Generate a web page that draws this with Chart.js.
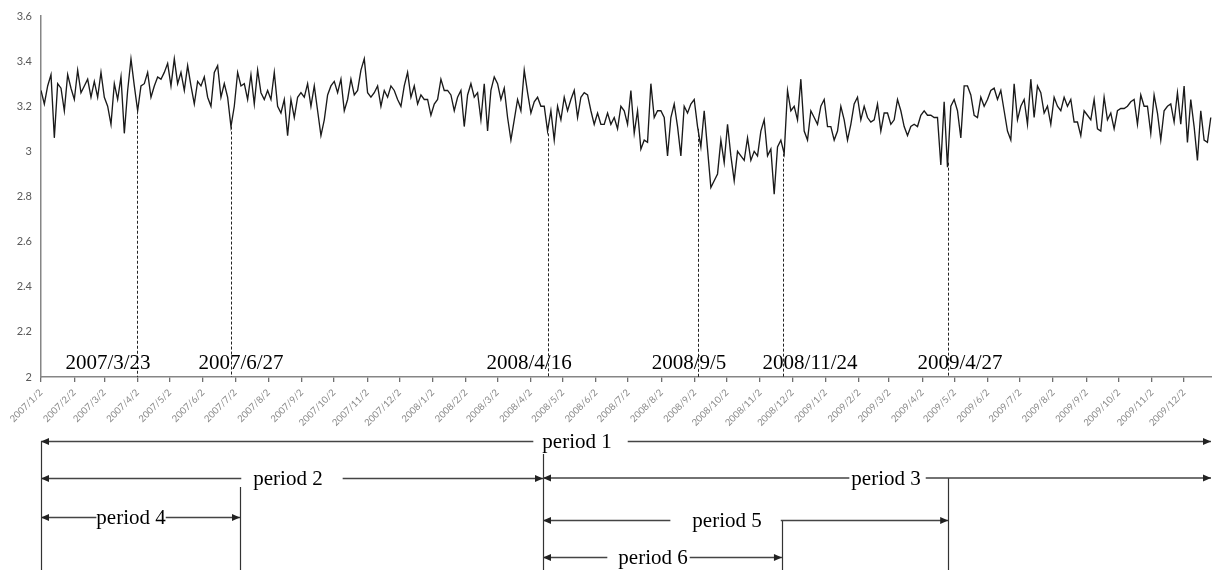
<!DOCTYPE html>
<html><head><meta charset="utf-8">
<script src="https://cdn.jsdelivr.net/npm/chart.js@4.4.0/dist/chart.umd.min.js"></script>
<style>html,body{margin:0;padding:0;background:#fff}#wrap{position:relative;width:1212px;height:570px}</style>
</head><body><div id="wrap"><canvas id="c"></canvas></div>
<script>
// ---- data ----
const monthTicks = [
 '2007/1/2','2007/2/2','2007/3/2','2007/4/2','2007/5/2','2007/6/2','2007/7/2','2007/8/2','2007/9/2','2007/10/2','2007/11/2','2007/12/2',
 '2008/1/2','2008/2/2','2008/3/2','2008/4/2','2008/5/2','2008/6/2','2008/7/2','2008/8/2','2008/9/2','2008/10/2','2008/11/2','2008/12/2',
 '2009/1/2','2009/2/2','2009/3/2','2009/4/2','2009/5/2','2009/6/2','2009/7/2','2009/8/2','2009/9/2','2009/10/2','2009/11/2','2009/12/2'];
const yTicks = [2, 2.2, 2.4, 2.6, 2.8, 3, 3.2, 3.4, 3.6];
const axisEndDay = 1091;        // last day on the axis (days after 2007/1/2)
const sampleStepDays = 3.105;   // spacing of the samples
const values = [
 3.27,3.21,3.29,3.34,3.06,3.30,3.28,3.18,3.34,3.28,
 3.23,3.36,3.26,3.29,3.32,3.24,3.31,3.24,3.35,3.24,
 3.20,3.12,3.30,3.23,3.33,3.08,3.27,3.41,3.29,3.18,
 3.29,3.30,3.35,3.24,3.29,3.33,3.32,3.35,3.39,3.29,
 3.41,3.30,3.35,3.27,3.38,3.29,3.21,3.31,3.29,3.33,
 3.24,3.20,3.35,3.38,3.24,3.30,3.24,3.11,3.20,3.35,
 3.29,3.30,3.23,3.34,3.21,3.36,3.26,3.23,3.27,3.23,
 3.35,3.20,3.17,3.23,3.07,3.23,3.15,3.24,3.26,3.24,
 3.30,
 3.20,3.29,3.18,3.07,3.14,3.25,3.29,3.31,3.26,3.32,
 3.18,3.23,3.32,3.25,3.27,3.36,3.41,3.26,3.24,3.26,
 3.29,3.20,3.27,3.24,3.29,3.27,3.23,3.20,3.29,3.35,
 3.24,3.29,3.21,3.25,3.23,3.23,3.16,3.21,3.23,3.32,
 3.27,3.27,3.25,3.18,3.24,3.27,3.11,3.25,3.30,3.24,
 3.26,3.14,3.30,3.09,3.27,3.33,3.30,3.23,3.28,3.15,
 3.05,3.14,3.23,3.18,3.36,3.26,3.17,3.22,3.24,3.20,
 3.20,3.09,3.18,3.05,3.20,3.14,3.24,3.18,3.23,3.27,
 3.15,3.24,3.26,3.25,3.18,3.12,3.17,3.12,3.12,3.17,
 3.12,3.15,3.10,3.20,3.18,3.12,3.27,3.08,3.18,3.01,
 3.05,3.04,3.30,3.15,3.18,3.18,3.15,2.98,3.15,3.21,
 3.11,2.98,3.20,3.17,3.21,3.23,3.11,3.02,3.18,3.01,
 2.84,2.87,2.90,3.05,2.95,3.12,2.98,2.87,3.00,2.98,
 2.96,3.06,2.96,3.00,2.98,3.09,3.14,2.98,3.01,2.81,
 3.02,3.05,2.99,3.27,3.18,3.20,3.14,3.32,3.09,3.05,
 3.18,3.15,3.12,3.20,3.23,3.11,3.11,3.05,3.09,3.20,
 3.14,3.05,3.12,3.21,3.24,3.14,3.20,3.15,3.13,3.14,
 3.21,3.09,3.17,3.17,3.12,3.14,3.23,3.18,3.11,3.07,
 3.11,3.12,3.11,3.16,3.18,3.16,3.16,3.15,3.15,2.94,
 3.22,2.93,3.20,3.23,3.18,3.06,3.29,3.29,3.25,3.16,
 3.15,3.24,3.20,3.23,3.27,3.28,3.23,3.27,3.18,3.09,
 3.05,3.30,3.14,3.20,3.23,3.12,3.32,3.15,3.29,3.26,
 3.17,3.20,3.12,3.24,3.20,3.18,3.24,3.20,3.23,3.13,
 3.13,3.07,3.18,3.16,3.14,3.23,3.10,3.09,3.24,3.14,
 3.17,3.10,3.18,3.19,3.19,3.20,3.22,3.23,3.12,3.25,
 3.20,3.20,3.08,3.25,3.17,3.05,3.18,3.20,3.21,3.13,
 3.26,3.12,3.29,3.04,3.23,3.11,2.96,3.18,3.05,3.04,
 3.15];
const eventLabels = ['2007/3/23','2007/6/27','2008/4/16','2008/9/5','2008/11/24','2009/4/27'];
const eventLineDays = [89, 177, 472, 612, 691, 845];
const eventTopValues = [3.18, 3.11, 3.08, 3.10, 2.99, 2.95];
const eventLabelDays = [62.4, 186.3, 454.7, 603.7, 716.5, 856.2];
const periodLabels = ['period 1','period 2','period 3','period 4','period 5','period 6'];
const periodStartDays = [0, 0, 467.7, 0, 467.7, 467.7];
const periodEndDays = [1091, 467.7, 1091, 185.4, 845.2, 690.3];
const periodLabelDays = [499.4, 230.1, 787.3, 83.9, 639.2, 570.2];
const boundaryDays = [0, 185.4, 467.7, 690.3, 845.2];

// ---- layout / style ----
const periodRowY = [441.5, 478.5, 478, 517.5, 520.5, 557.5];
const periodGapPad = [[9,16],[12,20],[2,5],[0,0],[22,19],[11,2]];
const boundaryTopY = [441, 487, 454, 520, 478];
const SERIF = '"Liberation Serif","Times New Roman",serif';
const SANS = 'Lato, "Liberation Sans", sans-serif';

function dayOf(s){const [y,m,d]=s.split('/').map(Number);return (Date.UTC(y,m-1,d)-Date.UTC(2007,0,2))/864e5;}
const points = values.map((v,i)=>({x:i*sampleStepDays, y:v}));

function arrow(ctx, x, y, dir){
  const L=8, H=3.5;
  ctx.beginPath(); ctx.moveTo(x,y); ctx.lineTo(x-dir*L,y-H); ctx.lineTo(x-dir*L,y+H); ctx.closePath(); ctx.fill();
}

const annot = {
  id:'annot',
  afterDraw(chart){
    const {ctx, scales:{x,y}} = chart;
    ctx.save();
    ctx.strokeStyle='#222'; ctx.lineWidth=1; ctx.setLineDash([3,2]);
    eventLineDays.forEach((d,i)=>{
      const px=Math.round(x.getPixelForValue(d))+0.5;
      ctx.beginPath(); ctx.moveTo(px,y.getPixelForValue(eventTopValues[i])); ctx.lineTo(px,y.getPixelForValue(2)); ctx.stroke();
    });
    ctx.setLineDash([]);
    ctx.fillStyle='#000'; ctx.font='21px '+SERIF; ctx.textAlign='center'; ctx.textBaseline='alphabetic';
    eventLabels.forEach((t,i)=>ctx.fillText(t, x.getPixelForValue(eventLabelDays[i]), 369));
    ctx.strokeStyle='#333'; ctx.lineWidth=1.2;
    boundaryDays.forEach((d,i)=>{
      const px=Math.round(x.getPixelForValue(d))+0.5;
      ctx.beginPath(); ctx.moveTo(px,boundaryTopY[i]); ctx.lineTo(px,570); ctx.stroke();
    });
    ctx.fillStyle='#222'; ctx.strokeStyle='#444'; ctx.lineWidth=1.3;
    ctx.textBaseline='middle';
    periodLabels.forEach((t,i)=>{
      const yy=periodRowY[i];
      const x0=x.getPixelForValue(periodStartDays[i]), x1=Math.min(x.getPixelForValue(periodEndDays[i]),1211);
      const cx=x.getPixelForValue(periodLabelDays[i]);
      const w=ctx.measureText(t).width;
      const g0=cx-w/2-periodGapPad[i][0], g1=cx+w/2+periodGapPad[i][1];
      ctx.beginPath(); ctx.moveTo(x0,yy); ctx.lineTo(g0,yy); ctx.moveTo(g1,yy); ctx.lineTo(x1,yy); ctx.stroke();
      arrow(ctx,x0,yy,-1); arrow(ctx,x1,yy,1);
      ctx.fillStyle='#000'; ctx.fillText(t,cx,yy+1); ctx.fillStyle='#222';
    });
    ctx.restore();
  }
};

new Chart(document.getElementById('c'), {
  type:'line',
  data:{datasets:[{data:points, borderColor:'#1a1a1a', borderWidth:1.35, pointRadius:0, tension:0, fill:false}]},
  options:{
    responsive:true, maintainAspectRatio:false, animation:false, devicePixelRatio:1,
    layout:{padding:{top:16,right:0,left:0,bottom:0}},
    plugins:{legend:{display:false}, tooltip:{enabled:false}},
    scales:{
      x:{type:'linear', min:0, max:axisEndDay,
        afterBuildTicks:s=>{s.ticks=monthTicks.map(m=>({value:dayOf(m)}));},
        afterFit:s=>{s.height=193; s.paddingLeft=0; s.paddingRight=0;},
        grid:{drawOnChartArea:false, drawTicks:true, tickLength:5, color:'#6e6e6e', lineWidth:1.3},
        border:{color:'#868686', width:1.5},
        ticks:{autoSkip:false, maxRotation:45, minRotation:45, padding:5, color:'#8a8a8a',
          font:{family:SANS, size:9.5}, callback:(v,i)=>monthTicks[i]}
      },
      y:{min:2, max:3.6,
        afterBuildTicks:s=>{s.ticks=yTicks.map(v=>({value:v}));},
        afterFit:s=>{s.width=41; s.paddingTop=0; s.paddingBottom=0;},
        grid:{drawOnChartArea:false, drawTicks:false},
        border:{color:'#868686', width:1.5},
        ticks:{padding:9, color:'#595959', font:{family:SANS, size:11}, callback:v=>String(v)}
      }
    }
  },
  plugins:[annot]
});
</script></body></html>
